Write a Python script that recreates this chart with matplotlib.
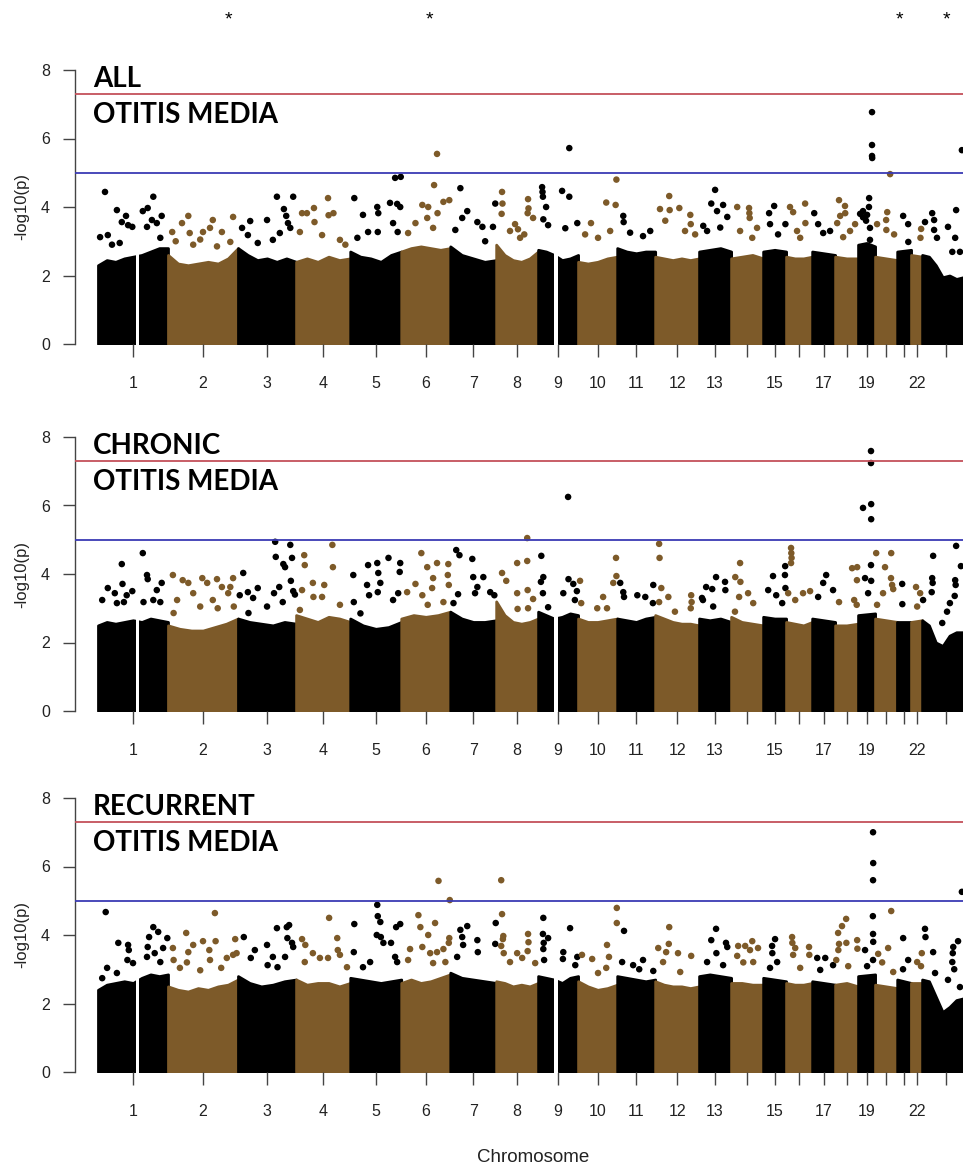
import numpy as np
import matplotlib

matplotlib.use("Agg")
import matplotlib.pyplot as plt

BLACK = "#000000"
BROWN = "#7d5a29"
RED_LINE = "#c4505a"
BLUE_LINE = "#3a3ab4"
AXIS_GREY = "#444444"

# chromosome extents as plotted (Mb), chromosome 23 runs off the right edge
CHROM_LEN_MB = [247, 247, 205, 191, 180, 173, 162, 148, 141, 138, 134, 155,
                113, 113, 81, 92, 81, 81, 60, 78, 49, 39, 169]
SHOWN_LABELS = [1, 2, 3, 4, 5, 6, 7, 8, 9, 10, 11, 12, 13, 15, 17, 19, 22]
GAPS = [(1, 0.54, 0.58), (9, 0.40, 0.50)]
GENOME_WIDE = 7.3
SUGGESTIVE = 5.0

PANEL_TITLES = [("ALL", "OTITIS MEDIA"), ("CHRONIC", "OTITIS MEDIA"), ("RECURRENT", "OTITIS MEDIA")]

# top of the dense cloud of SNPs, sampled evenly along each chromosome
ALL_BODY = [
    [2.3, 2.45, 2.4, 2.5, 2.55, 2.6, 2.7, 2.8, 2.8],
    [2.6, 2.35, 2.3, 2.35, 2.4, 2.35, 2.5, 2.8],
    [2.8, 2.6, 2.45, 2.5, 2.4, 2.5, 2.4],
    [2.4, 2.5, 2.4, 2.55, 2.45, 2.5],
    [2.7, 2.55, 2.5, 2.4, 2.6, 2.7],
    [2.7, 2.8, 2.85, 2.8, 2.75, 2.8],
    [2.85, 2.6, 2.5, 2.4, 2.45],
    [2.9, 2.6, 2.45, 2.4, 2.5, 2.7],
    [2.75, 2.7, 2.6, 2.45, 2.5, 2.6],
    [2.4, 2.35, 2.4, 2.5, 2.55],
    [2.8, 2.7, 2.65, 2.7, 2.7],
    [2.55, 2.5, 2.45, 2.5, 2.45, 2.5],
    [2.7, 2.75, 2.8, 2.7],
    [2.5, 2.55, 2.6, 2.5],
    [2.7, 2.75, 2.7],
    [2.55, 2.5, 2.5, 2.55],
    [2.7, 2.65, 2.6],
    [2.55, 2.5, 2.5],
    [2.9, 2.95, 2.85],
    [2.55, 2.5, 2.45],
    [2.7, 2.75],
    [2.6, 2.55],
    [2.6, 2.55, 2.3, 1.95, 2.0, 1.9, 1.95, 2.0],
]
CHRONIC_BODY = [
    [2.5, 2.6, 2.55, 2.6, 2.65, 2.6, 2.7, 2.65, 2.6],
    [2.5, 2.4, 2.35, 2.35, 2.45, 2.55, 2.7],
    [2.7, 2.6, 2.55, 2.5, 2.6, 2.55],
    [2.8, 2.7, 2.6, 2.75, 2.7, 2.6],
    [2.7, 2.5, 2.4, 2.45, 2.6],
    [2.7, 2.8, 2.75, 2.8, 2.9],
    [2.9, 2.7, 2.6, 2.6, 2.65],
    [3.2, 2.8, 2.6, 2.55, 2.6, 2.7],
    [2.9, 2.8, 2.7, 2.75, 2.85, 2.8],
    [2.7, 2.6, 2.6, 2.65, 2.7],
    [2.7, 2.65, 2.6, 2.7, 2.75],
    [2.8, 2.7, 2.6, 2.55, 2.55, 2.5],
    [2.7, 2.65, 2.7, 2.6],
    [2.75, 2.6, 2.55, 2.5],
    [2.75, 2.7, 2.7],
    [2.6, 2.55, 2.5, 2.6],
    [2.7, 2.65, 2.6],
    [2.5, 2.5, 2.55],
    [2.8, 2.85],
    [2.7, 2.65, 2.6],
    [2.6, 2.6],
    [2.6, 2.65],
    [2.65, 2.5, 2.0, 1.9, 2.2, 2.3, 2.3, 2.3],
]
RECURRENT_BODY = [
    [2.4, 2.55, 2.6, 2.65, 2.6, 2.75, 2.85, 2.8, 2.85],
    [2.5, 2.4, 2.35, 2.45, 2.4, 2.5, 2.55, 2.7],
    [2.8, 2.6, 2.5, 2.55, 2.65, 2.7],
    [2.7, 2.55, 2.6, 2.6, 2.5, 2.6],
    [2.75, 2.7, 2.65, 2.6, 2.65, 2.7],
    [2.6, 2.7, 2.6, 2.65, 2.75, 2.85],
    [2.9, 2.75, 2.7, 2.65, 2.6],
    [2.65, 2.6, 2.5, 2.55, 2.5, 2.6],
    [2.8, 2.75, 2.7, 2.6, 2.75, 2.8],
    [2.65, 2.5, 2.4, 2.45, 2.55],
    [2.8, 2.75, 2.7, 2.65, 2.7],
    [2.65, 2.55, 2.5, 2.5, 2.45, 2.5],
    [2.8, 2.85, 2.8, 2.75],
    [2.6, 2.6, 2.55, 2.55],
    [2.75, 2.7, 2.65],
    [2.6, 2.55, 2.55, 2.6],
    [2.65, 2.6, 2.55],
    [2.55, 2.6, 2.5],
    [2.8, 2.85],
    [2.55, 2.5, 2.45],
    [2.7, 2.6],
    [2.6, 2.6],
    [2.7, 2.65, 2.2, 1.75, 1.9, 2.1, 2.15, 2.1],
]

# individual SNPs above the cloud: (chromosome, fraction along chromosome, -log10 p)
ALL_HITS = [
    (1, .10, 4.44), (1, .27, 3.91), (1, .40, 3.74), (1, .34, 3.56), (1, .43, 3.47), (1, .14, 3.18),
    (1, .03, 3.12), (1, .49, 3.42), (1, .79, 4.30), (1, .71, 3.97), (1, .64, 3.88), (1, .77, 3.62),
    (1, .91, 3.74), (1, .84, 3.53), (1, .70, 3.42), (1, .20, 2.90), (1, .31, 2.95), (1, .89, 3.10),
    (2, .20, 3.53), (2, .29, 3.74), (2, .31, 3.24), (2, .06, 3.27), (2, .50, 3.27), (2, .64, 3.62),
    (2, .60, 3.39), (2, .77, 3.27), (2, .93, 3.71), (2, .36, 2.90), (2, .89, 2.98), (2, .70, 2.85),
    (2, .11, 3.00), (2, .46, 3.05),
    (3, .21, 3.59), (3, .07, 3.39), (3, .50, 3.62), (3, .67, 4.30), (3, .79, 3.94), (3, .83, 3.74),
    (3, .95, 4.30), (3, .86, 3.53), (3, .90, 3.39), (3, .72, 3.24), (3, .17, 3.18), (3, .60, 3.04),
    (3, .34, 2.95),
    (4, .11, 3.82), (4, .20, 3.82), (4, .33, 3.97), (4, .59, 4.26), (4, .69, 3.82), (4, .60, 3.76),
    (4, .34, 3.56), (4, .07, 3.27), (4, .48, 3.18), (4, .81, 3.04), (4, .91, 2.90),
    (5, .08, 4.26), (5, .25, 3.77), (5, .53, 4.00), (5, .55, 3.82), (5, .78, 4.12), (5, .92, 4.09),
    (5, .98, 4.00), (5, .84, 3.53), (5, .93, 3.27), (5, .35, 3.27), (5, .54, 3.27), (5, .14, 3.10),
    (5, .88, 4.85), (5, .99, 4.88),
    (6, .73, 5.55), (6, .67, 4.64), (6, .43, 4.06), (6, .55, 4.00), (6, .74, 3.82), (6, .86, 4.15),
    (6, .98, 4.20), (6, .29, 3.53), (6, .53, 3.68), (6, .14, 3.24), (6, .65, 3.39),
    (7, .22, 4.55), (7, .37, 3.88), (7, .26, 3.68), (7, .59, 3.56), (7, .11, 3.33), (7, .70, 3.42),
    (7, .93, 3.42), (7, .98, 4.10), (7, .76, 3.00),
    (8, .14, 4.44), (8, .76, 4.23), (8, .15, 4.10), (8, .13, 3.80), (8, .77, 3.96), (8, .75, 3.82),
    (8, .88, 3.68), (8, .33, 3.30), (8, .57, 3.10), (8, .45, 3.50), (8, .52, 3.35), (8, .67, 3.20),
    (9, .10, 4.58), (9, .11, 4.44), (9, .12, 4.30), (9, .25, 3.47), (9, .13, 3.64), (9, .60, 4.47),
    (9, .78, 4.30), (9, .78, 5.72), (9, .98, 3.53), (9, .68, 3.38), (9, .20, 4.00),
    (10, .33, 3.53), (10, .72, 4.13), (10, .96, 4.06), (10, .98, 4.80), (10, .18, 3.20),
    (10, .51, 3.10), (10, .82, 3.30),
    (11, .16, 3.74), (11, .17, 3.56), (11, .68, 3.15), (11, .34, 3.25), (11, .87, 3.30),
    (12, .11, 3.94), (12, .32, 4.32), (12, .33, 3.91), (12, .55, 3.97), (12, .80, 3.77),
    (12, .81, 3.50), (12, .23, 3.60), (12, .68, 3.30), (12, .91, 3.20),
    (13, .38, 4.10), (13, .50, 4.50), (13, .75, 4.06), (13, .56, 3.88), (13, .13, 3.45),
    (13, .88, 3.71), (13, .25, 3.30), (13, .66, 3.40),
    (14, .19, 4.00), (14, .56, 3.97), (14, .57, 3.82), (14, .58, 3.68), (14, .81, 3.39),
    (14, .28, 3.30), (14, .66, 3.10),
    (15, .48, 4.03), (15, .26, 3.82), (15, .97, 3.50), (15, .30, 3.50), (15, .65, 3.20),
    (16, .15, 4.00), (16, .27, 3.85), (16, .73, 4.10), (16, .74, 3.53), (16, .42, 3.30), (16, .54, 3.10),
    (17, .09, 3.82), (17, .48, 3.24), (17, .26, 3.50), (17, .78, 3.30),
    (18, .17, 4.20), (18, .43, 4.03), (18, .44, 3.82), (18, .09, 3.53), (18, .65, 3.30),
    (18, .87, 3.50), (18, .22, 3.74), (18, .35, 3.12),
    (19, .82, 6.77), (19, .82, 5.81), (19, .82, 5.49), (19, .83, 5.43), (19, .65, 4.26),
    (19, .29, 3.88), (19, .53, 3.77), (19, .12, 3.80), (19, .64, 4.00), (19, .47, 3.60),
    (19, .70, 3.39), (19, .29, 3.70), (19, .70, 3.04),
    (20, .68, 4.96), (20, .09, 3.50), (20, .55, 3.85), (20, .50, 3.62), (20, .51, 3.33), (20, .86, 3.20),
    (21, .43, 3.74), (21, .79, 3.50), (21, .80, 2.98),
    (22, .91, 3.36), (22, .85, 3.10),
    (23, .83, 5.66), (23, .06, 3.56), (23, .21, 3.82), (23, .54, 3.42), (23, .71, 3.91),
    (23, .69, 3.10), (23, .79, 2.69), (23, .25, 3.62), (23, .25, 3.33), (23, .31, 3.10),
    (23, .63, 2.69),
]
CHRONIC_HITS = [
    (1, .34, 4.29), (1, .14, 3.59), (1, .24, 3.44), (1, .35, 3.71), (1, .41, 3.38), (1, .49, 3.50),
    (1, .37, 3.18), (1, .06, 3.24), (1, .27, 3.15), (1, .64, 4.61), (1, .70, 3.97), (1, .71, 3.85),
    (1, .91, 3.74), (1, .84, 3.53), (1, .79, 3.24), (1, .89, 3.18), (1, .65, 3.18),
    (2, .07, 3.97), (2, .21, 3.82), (2, .29, 3.74), (2, .49, 3.88), (2, .56, 3.74), (2, .70, 3.85),
    (2, .77, 3.62), (2, .89, 3.62), (2, .93, 3.88), (2, .36, 3.44), (2, .13, 3.24), (2, .64, 3.24),
    (2, .86, 3.44), (2, .46, 3.05), (2, .08, 2.86), (2, .71, 3.00), (2, .94, 3.05),
    (3, .09, 4.03), (3, .17, 3.47), (3, .34, 3.59), (3, .26, 3.30), (3, .03, 3.38), (3, .18, 2.86),
    (3, .64, 4.94), (3, .65, 4.50), (3, .78, 4.29), (3, .81, 4.20), (3, .90, 4.85), (3, .93, 4.47),
    (3, .91, 3.80), (3, .95, 3.50), (3, .98, 3.40), (3, .71, 3.62), (3, .62, 3.44), (3, .77, 3.18),
    (3, .50, 3.05),
    (4, .15, 4.55), (4, .16, 4.26), (4, .31, 3.74), (4, .52, 3.68), (4, .67, 4.85), (4, .68, 4.20),
    (4, .11, 3.53), (4, .32, 3.33), (4, .48, 3.33), (4, .81, 3.10), (4, .07, 2.95),
    (5, .06, 3.97), (5, .35, 4.26), (5, .53, 4.32), (5, .55, 4.03), (5, .59, 3.74), (5, .54, 3.47),
    (5, .33, 3.68), (5, .37, 3.38), (5, .75, 4.47), (5, .98, 4.32), (5, .97, 4.06), (5, .94, 3.44),
    (5, .84, 3.24), (5, .07, 3.18), (5, .20, 2.85),
    (6, .41, 4.61), (6, .53, 4.20), (6, .73, 4.32), (6, .96, 4.29), (6, .29, 3.71), (6, .65, 3.88),
    (6, .63, 3.59), (6, .95, 3.97), (6, .97, 3.68), (6, .12, 3.47), (6, .43, 3.38), (6, .86, 3.18),
    (6, .54, 3.10),
    (7, .13, 4.70), (7, .20, 4.55), (7, .48, 4.44), (7, .50, 3.91), (7, .17, 3.41), (7, .07, 3.15),
    (7, .72, 3.91), (7, .59, 3.62), (7, .87, 3.47), (7, .96, 3.38), (7, .54, 3.44),
    (8, .14, 4.03), (8, .24, 3.80), (8, .50, 4.32), (8, .74, 4.38), (8, .74, 5.05), (8, .50, 3.44),
    (8, .75, 3.53), (8, .88, 3.27), (8, .51, 2.98), (8, .76, 3.00),
    (9, .08, 4.53), (9, .13, 3.91), (9, .07, 3.77), (9, .12, 3.44), (9, .25, 3.03), (9, .75, 6.25),
    (9, .76, 3.85), (9, .88, 3.71), (9, .97, 3.50), (9, .63, 3.44), (9, .92, 3.24),
    (10, .05, 3.80), (10, .08, 3.15), (10, .64, 3.33), (10, .97, 4.47), (10, .98, 3.94),
    (10, .90, 3.74), (10, .74, 3.00), (10, .49, 3.00),
    (11, .08, 3.74), (11, .16, 3.47), (11, .18, 3.33), (11, .53, 3.38), (11, .74, 3.33),
    (11, .95, 3.68), (11, .94, 3.15),
    (12, .09, 4.88), (12, .10, 4.47), (12, .14, 3.59), (12, .30, 3.33), (12, .09, 3.18),
    (12, .82, 3.38), (12, .83, 3.18), (12, .81, 3.00), (12, .45, 2.90),
    (13, .22, 3.62), (13, .09, 3.30), (13, .53, 3.91), (13, .41, 3.56), (13, .81, 3.77),
    (13, .82, 3.53), (13, .12, 3.24), (13, .44, 3.05),
    (14, .28, 4.32), (14, .13, 3.91), (14, .29, 3.77), (14, .53, 3.44), (14, .25, 3.33),
    (14, .69, 3.15), (14, .12, 2.90),
    (15, .43, 3.94), (15, .22, 3.53), (15, .57, 3.38), (15, .83, 3.15), (15, .96, 4.23),
    (15, .95, 3.97), (15, .97, 3.59),
    (16, .19, 4.76), (16, .20, 4.61), (16, .21, 4.47), (16, .19, 4.32), (16, .08, 3.44),
    (16, .35, 3.24), (16, .65, 3.44), (16, .92, 3.50),
    (17, .61, 3.97), (17, .48, 3.74), (17, .26, 3.33), (17, .91, 3.53),
    (18, .17, 3.18), (18, .74, 4.17), (18, .96, 4.20), (18, .95, 3.82), (18, .83, 3.24), (18, .94, 3.10),
    (19, .76, 7.59), (19, .76, 7.24), (19, .29, 5.93), (19, .77, 6.04), (19, .77, 5.60),
    (19, .76, 4.26), (19, .41, 3.88), (19, .77, 3.80), (19, .59, 3.44),
    (20, .05, 4.61), (20, .73, 4.61), (20, .45, 4.20), (20, .72, 3.88), (20, .77, 3.68),
    (20, .82, 3.56), (20, .36, 3.44), (20, .09, 3.10),
    (21, .36, 3.71), (21, .37, 3.12),
    (22, .45, 3.62), (22, .82, 3.44), (22, .55, 3.05),
    (23, .23, 4.53), (23, .21, 3.88), (23, .22, 3.74), (23, .20, 3.47), (23, .02, 3.24),
    (23, .71, 4.82), (23, .81, 4.23), (23, .69, 3.82), (23, .70, 3.68), (23, .68, 3.36),
    (23, .58, 3.15), (23, .52, 2.90), (23, .42, 2.57),
]
RECURRENT_HITS = [
    (1, .11, 4.67), (1, .29, 3.77), (1, .43, 3.71), (1, .44, 3.56), (1, .42, 3.27), (1, .13, 3.04),
    (1, .27, 2.89), (1, .50, 3.18), (1, .06, 2.74), (1, .79, 4.23), (1, .86, 4.09), (1, .73, 3.94),
    (1, .71, 3.65), (1, .99, 3.91), (1, .93, 3.62), (1, .81, 3.47), (1, .70, 3.36), (1, .89, 3.21),
    (2, .07, 3.62), (2, .08, 3.27), (2, .26, 4.06), (2, .36, 3.71), (2, .29, 3.50), (2, .27, 3.20),
    (2, .50, 3.82), (2, .59, 3.56), (2, .67, 4.64), (2, .68, 3.82), (2, .60, 3.27), (2, .76, 3.04),
    (2, .84, 3.33), (2, .96, 3.88), (2, .93, 3.42), (2, .98, 3.47), (2, .17, 3.04), (2, .46, 2.97),
    (3, .10, 3.94), (3, .29, 3.56), (3, .22, 3.33), (3, .50, 3.71), (3, .67, 4.20), (3, .84, 4.23),
    (3, .88, 4.29), (3, .85, 3.91), (3, .93, 3.77), (3, .95, 3.65), (3, .60, 3.36), (3, .81, 3.36),
    (3, .51, 3.12), (3, .68, 3.06),
    (4, .11, 3.88), (4, .17, 3.71), (4, .31, 3.47), (4, .61, 4.50), (4, .76, 3.91), (4, .77, 3.56),
    (4, .81, 3.42), (4, .44, 3.33), (4, .16, 3.21), (4, .59, 3.33), (4, .94, 3.06),
    (5, .08, 4.32), (5, .07, 3.50), (5, .53, 4.88), (5, .54, 4.55), (5, .59, 4.38), (5, .52, 4.00),
    (5, .60, 3.94), (5, .65, 3.77), (5, .80, 3.77), (5, .90, 4.23), (5, .98, 4.32), (5, .88, 3.36),
    (5, .92, 3.21), (5, .39, 3.21), (5, .25, 3.06),
    (6, .76, 5.58), (6, .99, 5.02), (6, .35, 4.58), (6, .39, 4.23), (6, .69, 4.35), (6, .55, 4.00),
    (6, .18, 3.59), (6, .43, 3.65), (6, .59, 3.47), (6, .73, 3.50), (6, .86, 3.59), (6, .98, 3.91),
    (6, .97, 3.77), (6, .14, 3.27), (6, .65, 3.18), (6, .90, 3.21),
    (7, .22, 4.15), (7, .37, 4.26), (7, .26, 3.94), (7, .28, 3.71), (7, .59, 3.85), (7, .60, 3.50),
    (7, .15, 3.36), (7, .99, 4.35), (7, .98, 3.74),
    (8, .12, 5.60), (8, .14, 4.61), (8, .17, 3.97), (8, .16, 3.88), (8, .12, 3.68), (8, .18, 3.47),
    (8, .76, 4.03), (8, .77, 3.79), (8, .75, 3.53), (8, .50, 3.47), (8, .62, 3.33), (8, .93, 3.18),
    (8, .33, 3.21),
    (9, .13, 4.50), (9, .12, 4.03), (9, .25, 3.91), (9, .14, 3.77), (9, .13, 3.59), (9, .15, 3.27),
    (9, .80, 4.20), (9, .63, 3.50), (9, .62, 3.30), (9, .98, 3.36), (9, .93, 3.12),
    (10, .10, 3.42), (10, .36, 3.30), (10, .74, 3.71), (10, .79, 3.36), (10, .99, 4.35),
    (10, .99, 4.79), (10, .51, 2.89), (10, .72, 3.04),
    (11, .18, 4.12), (11, .13, 3.21), (11, .42, 3.12), (11, .68, 3.27), (11, .58, 3.00), (11, .95, 2.95),
    (12, .32, 4.23), (12, .31, 3.74), (12, .07, 3.62), (12, .25, 3.50), (12, .52, 3.47),
    (12, .82, 3.39), (12, .18, 3.21), (12, .57, 2.92),
    (13, .53, 4.18), (13, .38, 3.85), (13, .54, 3.47), (13, .84, 3.77), (13, .88, 3.65),
    (13, .25, 3.21), (13, .75, 3.12),
    (14, .22, 3.68), (14, .44, 3.68), (14, .66, 3.82), (14, .59, 3.56), (14, .84, 3.62),
    (14, .19, 3.39), (14, .38, 3.20), (14, .69, 3.21),
    (15, .52, 3.88), (15, .39, 3.68), (15, .40, 3.47), (15, .61, 3.21), (15, .30, 3.04),
    (16, .23, 3.94), (16, .24, 3.77), (16, .35, 3.62), (16, .27, 3.42), (16, .88, 3.65),
    (16, .89, 3.42), (16, .54, 3.04),
    (17, .22, 3.33), (17, .57, 3.33), (17, .91, 3.12), (17, .35, 2.98),
    (18, .48, 4.47), (18, .30, 4.26), (18, .13, 4.06), (18, .17, 3.74), (18, .49, 3.77),
    (18, .14, 3.56), (18, .57, 3.09), (18, .05, 3.27), (18, .96, 3.85), (18, .97, 3.60),
    (19, .88, 7.00), (19, .89, 6.10), (19, .88, 5.60), (19, .87, 4.55), (19, .88, 4.03),
    (19, .89, 3.80), (19, .41, 3.56), (19, .88, 3.27), (19, .53, 3.09),
    (20, .73, 4.70), (20, .14, 3.45), (20, .59, 3.62), (20, .82, 2.92), (20, .32, 3.20),
    (21, .43, 3.91), (21, .79, 3.27), (21, .42, 3.00),
    (22, .97, 3.47), (22, .55, 3.21), (22, .90, 3.09),
    (23, .83, 5.26), (23, .06, 4.18), (23, .07, 3.94), (23, .23, 3.50), (23, .27, 2.89),
    (23, .65, 3.65), (23, .75, 3.82), (23, .64, 3.47), (23, .63, 3.21), (23, .67, 3.00),
    (23, .54, 2.69), (23, .79, 2.48),
]

PANELS = [(ALL_BODY, ALL_HITS), (CHRONIC_BODY, CHRONIC_HITS), (RECURRENT_BODY, RECURRENT_HITS)]

W, H = 963, 1166
AX_LEFT_PX = 75
DATA_LEFT_PX = 98
PX_PER_MB = 0.2834
PANEL_BOTTOM_PX = [344, 711, 1072]
PANEL_HEIGHT_PX = 274

plt.rcParams["font.family"] = ["Liberation Sans", "DejaVu Sans"]

starts = np.concatenate([[0], np.cumsum(CHROM_LEN_MB)[:-1]])
mids = starts + np.array(CHROM_LEN_MB) / 2.0
colors = [BLACK if c % 2 == 1 else BROWN for c in range(1, 24)]

fig = plt.figure(figsize=(W / 100, H / 100), dpi=100)

x_min = -(DATA_LEFT_PX - AX_LEFT_PX) / PX_PER_MB
x_max = (W - DATA_LEFT_PX) / PX_PER_MB

for (body, hits), bottom_px, titles in zip(PANELS, PANEL_BOTTOM_PX, PANEL_TITLES):
    ax = fig.add_axes([AX_LEFT_PX / W, 1 - bottom_px / H, (W - AX_LEFT_PX) / W, PANEL_HEIGHT_PX / H])
    ax.set_xlim(x_min, x_max)
    ax.set_ylim(0, 8)

    # dense part of the cloud
    for i, heights in enumerate(body):
        xs = starts[i] + np.linspace(0, CHROM_LEN_MB[i], len(heights))
        ax.fill_between(xs, 0, heights, color=colors[i], edgecolor=colors[i], linewidth=2.0,
                        joinstyle="round", zorder=1)
    for chrom, f0, f1 in GAPS:
        i = chrom - 1
        ax.fill_between([starts[i] + f0 * CHROM_LEN_MB[i], starts[i] + f1 * CHROM_LEN_MB[i]], -0.1, 3.3,
                        color="white", linewidth=0, zorder=2)

    hx = [starts[c - 1] + f * CHROM_LEN_MB[c - 1] for c, f, _ in hits]
    hy = [v for _, _, v in hits]
    hc = [colors[c - 1] for c, _, _ in hits]
    ax.scatter(hx, hy, s=22, c=hc, linewidths=0, zorder=3, clip_on=False)

    ax.axhline(GENOME_WIDE, color=RED_LINE, linewidth=1.3, zorder=4)
    ax.axhline(SUGGESTIVE, color=BLUE_LINE, linewidth=1.3, zorder=4)

    for side in ("top", "right", "bottom"):
        ax.spines[side].set_visible(False)
    ax.spines["left"].set_bounds(0, 8)
    ax.spines["left"].set_color(AXIS_GREY)
    ax.spines["left"].set_linewidth(1.0)
    ax.set_yticks([0, 2, 4, 6, 8])
    ax.tick_params(axis="y", direction="out", length=9, width=1.0, color=AXIS_GREY,
                   labelsize=11.5, pad=9, labelcolor="#222222")
    ax.set_xticks(mids)
    ax.set_xticklabels([str(c) if c in SHOWN_LABELS else "" for c in range(1, 24)])
    ax.tick_params(axis="x", direction="out", length=9, width=1.0, color=AXIS_GREY,
                   labelsize=11.5, pad=14, labelcolor="#222222")

    top_px = bottom_px - PANEL_HEIGHT_PX
    fig.text(22 / W, 1 - (bottom_px - PANEL_HEIGHT_PX / 2) / H, "-log10(p)", rotation=90,
             ha="center", va="center", fontsize=12, color="#222222")
    fig.text(93 / W, 1 - (top_px + 17) / H, titles[0], fontsize=20, fontweight="bold",
             family=["Lato", "DejaVu Sans"], va="baseline")
    fig.text(93 / W, 1 - (top_px + 53) / H, titles[1], fontsize=20, fontweight="bold",
             family=["Lato", "DejaVu Sans"], va="baseline")

fig.text(533 / W, 1 - 1158 / H, "Chromosome", ha="center", va="center", fontsize=13.5, color="#222222")

for x_px in (228, 429, 899, 946):
    fig.text(x_px / W, 1 - 20 / H, "*", ha="center", va="center", fontsize=14)

fig.savefig("out.png", dpi=100, facecolor="white")
